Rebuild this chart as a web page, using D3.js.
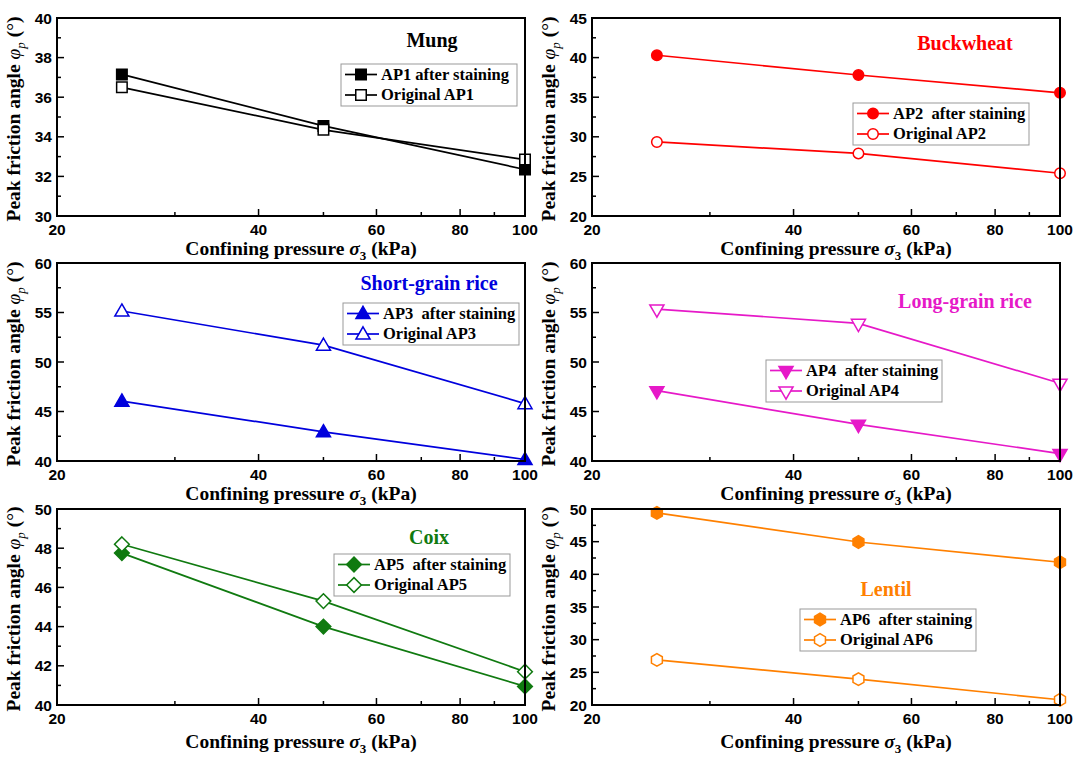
<!DOCTYPE html>
<html>
<head>
<meta charset="utf-8">
<script src="https://cdn.jsdelivr.net/npm/d3@7"></script>
<style>
  body { margin: 0; background: #fff; }
  text { font-family: 'Liberation Serif', 'Times New Roman', serif; }
  .tick-label { font-family: 'Liberation Sans', Arial, sans-serif; font-weight: bold; font-size: 15.5px; }
</style>
</head>
<body>
<div id="chart"></div>
<script>
// confining pressure (kPa)
const pressure = [25, 50, 100];
const xTicks = [20, 40, 60, 80, 100];

const panelNames = ['Mung', 'Buckwheat', 'Short-grain rice', 'Long-grain rice', 'Coix', 'Lentil'];
const afterLabels = ['AP1 after staining', 'AP2  after staining', 'AP3  after staining',
	'AP4  after staining', 'AP5  after staining', 'AP6  after staining'];
const originalLabels = ['Original AP1', 'Original AP2', 'Original AP3', 'Original AP4', 'Original AP5', 'Original AP6'];

// peak friction angle (deg)
const afterValues = [
	[37.15, 34.55, 32.35],
	[40.3, 37.8, 35.55],
	[46.05, 42.95, 40.15],
	[47.1, 43.7, 40.75],
	[47.75, 44.0, 40.95],
	[49.4, 44.95, 41.85]
];
const originalValues = [
	[36.5, 34.35, 32.85],
	[29.35, 27.9, 25.4],
	[55.15, 51.7, 45.8],
	[55.35, 53.9, 47.85],
	[48.2, 45.3, 41.7],
	[26.9, 23.95, 20.8]
];

// y axis ranges and major tick step
const yDomains = [[30, 40], [20, 45], [40, 60], [40, 60], [40, 50], [20, 50]];
const yTickSteps = [2, 5, 5, 5, 2, 5];

// ---- styling / layout ----
const colors = ['#000000', '#ff0000', '#0000dd', '#e619c8', '#107a10', '#ff8000'];
const markers = ['square', 'circle', 'triangle', 'triangleDown', 'diamond', 'hexagon'];

const colLeft = [57, 592], rowTop = [18, 263, 509], rowHeight = [198, 198, 196];
const plotW = 468;

// title position (relative to plot) and legend box
const titlePos = [[375, 29], [373, 32], [372, 27], [373, 45], [372, 35], [294, 87]];
const legendBox = [[284, 46], [261, 85], [286, 40], [174, 97], [277, 45], [208, 100]];
const legendW = 176, legendH = 42;

const svg = d3.select('#chart').append('svg')
	.attr('width', 1075)
	.attr('height', 757);

function markerPath(type, size) {
	if (type === 'square') return d3.symbol(d3.symbolSquare, size * size)();
	if (type === 'circle') return d3.symbol(d3.symbolCircle, Math.PI * size * size / 4)();
	if (type === 'triangle') return d3.symbol(d3.symbolTriangle, size * size * 0.55)();
	if (type === 'triangleDown') return d3.symbol(d3.symbolTriangle, size * size * 0.55)();
	if (type === 'diamond') {
		let r = size * 0.7;
		return `M0,${-r}L${r},0L0,${r}L${-r},0Z`;
	}
	// hexagon
	let r = size * 0.6, pts = [];
	for (let k = 0; k < 6; k++) {
		let a = Math.PI / 6 + k * Math.PI / 3;
		pts.push([r * Math.cos(a), r * Math.sin(a)]);
	}
	return 'M' + pts.map(p => p.join(',')).join('L') + 'Z';
}

function drawMarker(g, type, x, y, color, filled) {
	let size = type === 'triangle' || type === 'triangleDown' ? 12.5 : 10.5;
	g.append('path')
		.attr('d', markerPath(type, size))
		.attr('transform', `translate(${x},${y})` + (type === 'triangleDown' ? ' rotate(180)' : '') + (type === 'triangle' ? ' translate(0,1)' : ''))
		.attr('fill', filled ? color : '#fff')
		.attr('stroke', color)
		.attr('stroke-width', 1.5);
}

function drawPanel(i) {
	let col = i % 2, row = Math.floor(i / 2);
	let left = colLeft[col], top = rowTop[row], height = rowHeight[row];
	let color = colors[i];

	let g = svg.append('g').attr('transform', `translate(${left},${top})`);

	let x = d3.scaleLog().domain([20, 100]).range([0, plotW]);
	let y = d3.scaleLinear().domain(yDomains[i]).range([height, 0]);

	let step = yTickSteps[i];
	let yMajor = d3.range(yDomains[i][0], yDomains[i][1] + 0.001, step);
	let yMinor = d3.range(yDomains[i][0] + step / 2, yDomains[i][1], step);

	// y ticks (inward)
	g.selectAll('.ymaj').data(yMajor).enter().append('line')
		.attr('x1', 0).attr('x2', 7)
		.attr('y1', d => y(d)).attr('y2', d => y(d))
		.attr('stroke', '#000').attr('stroke-width', 1.5);
	g.selectAll('.ymin').data(yMinor).enter().append('line')
		.attr('x1', 0).attr('x2', 4)
		.attr('y1', d => y(d)).attr('y2', d => y(d))
		.attr('stroke', '#000').attr('stroke-width', 1.5);
	g.selectAll('.ylab').data(yMajor).enter().append('text')
		.attr('class', 'tick-label')
		.attr('x', -5).attr('y', d => y(d) + 5.5)
		.attr('text-anchor', 'end')
		.text(d => d);

	// x ticks (inward)
	let xMinor = [30, 50, 70, 90];
	g.selectAll('.xmaj').data(xTicks).enter().append('line')
		.attr('x1', d => x(d)).attr('x2', d => x(d))
		.attr('y1', height).attr('y2', height - 7)
		.attr('stroke', '#000').attr('stroke-width', 1.5);
	g.selectAll('.xmin').data(xMinor).enter().append('line')
		.attr('x1', d => x(d)).attr('x2', d => x(d))
		.attr('y1', height).attr('y2', height - 4)
		.attr('stroke', '#000').attr('stroke-width', 1.5);
	g.selectAll('.xlab').data(xTicks).enter().append('text')
		.attr('class', 'tick-label')
		.attr('x', d => x(d)).attr('y', height + 18.5)
		.attr('text-anchor', 'middle')
		.text(d => d);

	// axis titles
	let xt = g.append('text')
		.attr('x', plotW / 2 + 10).attr('y', height + (row === 2 ? 43 : 38.5))
		.attr('text-anchor', 'middle')
		.style('font-size', '19.5px').style('font-weight', 'bold');
	xt.append('tspan').text('Confining pressure ');
	xt.append('tspan').style('font-style', 'italic').text('σ');
	xt.append('tspan').attr('dy', 5).style('font-size', '13px').text('3');
	xt.append('tspan').attr('dy', -5).text(' (kPa)');

	let yt = g.append('text')
		.attr('transform', `translate(-37,${height / 2 + 2}) rotate(-90)`)
		.attr('text-anchor', 'middle')
		.style('font-size', '19.5px').style('font-weight', 'bold');
	yt.append('tspan').text('Peak friction angle ');
	yt.append('tspan').style('font-style', 'italic').style('font-weight', 'normal').text('φ');
	yt.append('tspan').attr('dy', 5).style('font-size', '13px').style('font-style', 'italic').style('font-weight', 'normal').text('p');
	yt.append('tspan').attr('dy', -5).text(' (°)');

	// lines
	let line = d3.line().x((d, j) => x(pressure[j])).y(d => y(d));
	[afterValues[i], originalValues[i]].forEach((vals, s) => {
		g.append('path')
			.attr('d', line(vals))
			.attr('fill', 'none')
			.attr('stroke', color)
			.attr('stroke-width', 1.7);
		vals.forEach((v, j) => drawMarker(g, markers[i], x(pressure[j]), y(v), color, s === 0));
	});

	// frame
	g.append('rect')
		.attr('width', plotW).attr('height', height)
		.attr('fill', 'none').attr('stroke', '#000').attr('stroke-width', 2);

	// panel title
	g.append('text')
		.attr('x', titlePos[i][0]).attr('y', titlePos[i][1])
		.attr('text-anchor', 'middle')
		.style('font-size', '20px').style('font-weight', 'bold')
		.attr('fill', color)
		.text(panelNames[i]);

	// legend
	let lg = g.append('g').attr('transform', `translate(${legendBox[i][0]},${legendBox[i][1]})`);
	lg.append('rect')
		.attr('width', legendW).attr('height', legendH)
		.attr('fill', '#fff').attr('stroke', '#999').attr('stroke-width', 1);
	[afterLabels[i], originalLabels[i]].forEach((label, s) => {
		let ly = 10.5 + s * 20.5;
		lg.append('line')
			.attr('x1', 4).attr('x2', 36).attr('y1', ly).attr('y2', ly)
			.attr('stroke', color).attr('stroke-width', 1.7);
		drawMarker(lg, markers[i], 20, ly, color, s === 0);
		lg.append('text')
			.attr('x', 40).attr('y', ly + 5)
			.style('font-size', '16.5px').style('font-weight', 'bold')
			.style('white-space', 'pre')
			.text(label);
	});
}

d3.range(6).forEach(drawPanel);
</script>
</body>
</html>
